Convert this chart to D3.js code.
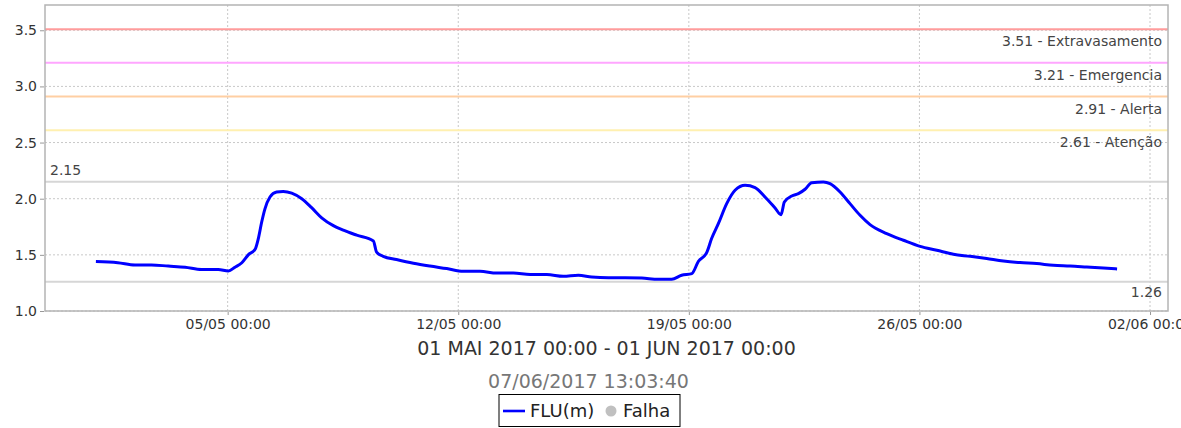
<!DOCTYPE html>
<html>
<head>
<meta charset="utf-8">
<script src="https://cdn.jsdelivr.net/npm/d3@7"></script>
<style>
  body { margin: 0; background: #fff; }
  svg { display: block; font-family: "DejaVu Sans", sans-serif; }
</style>
</head>
<body>
<svg></svg>
<script>
var width = 1181,
    height = 428;
var svg = d3.select("svg")
    .attr("width", width)
    .attr("height", height);

// readings of FLU(m), May 2017
var times = [
    "2017-05-01 00:00", "2017-05-01 16:00", "2017-05-02 04:30", "2017-05-02 16:30",
    "2017-05-03 04:45", "2017-05-03 17:00", "2017-05-04 05:00", "2017-05-04 17:10",
    "2017-05-05 00:30", "2017-05-05 05:20", "2017-05-05 10:20", "2017-05-05 15:00",
    "2017-05-05 20:00", "2017-05-05 22:20", "2017-05-06 00:45", "2017-05-06 03:10",
    "2017-05-06 06:50", "2017-05-06 11:40", "2017-05-06 16:30", "2017-05-06 22:40",
    "2017-05-07 06:00", "2017-05-07 13:10", "2017-05-07 20:30", "2017-05-08 05:00",
    "2017-05-08 12:15", "2017-05-08 22:00", "2017-05-09 10:10", "2017-05-09 12:30",
    "2017-05-09 17:20", "2017-05-10 03:00", "2017-05-10 15:20", "2017-05-11 03:20",
    "2017-05-11 15:35", "2017-05-12 03:40", "2017-05-12 15:50", "2017-05-13 04:00",
    "2017-05-13 16:10", "2017-05-14 04:20", "2017-05-14 16:30", "2017-05-15 04:30",
    "2017-05-15 15:30", "2017-05-16 01:15", "2017-05-16 13:25", "2017-05-17 01:30",
    "2017-05-17 13:40", "2017-05-18 01:45", "2017-05-18 11:30", "2017-05-18 18:45",
    "2017-05-19 02:10", "2017-05-19 07:00", "2017-05-19 13:00", "2017-05-19 16:35",
    "2017-05-19 21:30", "2017-05-20 03:35", "2017-05-20 09:40", "2017-05-20 17:00",
    "2017-05-21 00:15", "2017-05-21 07:30", "2017-05-21 14:50", "2017-05-21 19:10",
    "2017-05-21 21:35", "2017-05-22 03:00", "2017-05-22 07:50", "2017-05-22 12:40",
    "2017-05-22 17:30", "2017-05-23 02:00", "2017-05-23 06:50", "2017-05-23 14:10",
    "2017-05-23 21:25", "2017-05-24 04:45", "2017-05-24 12:00", "2017-05-25 00:10",
    "2017-05-25 12:20", "2017-05-26 00:30", "2017-05-26 12:40", "2017-05-27 00:45",
    "2017-05-27 13:00", "2017-05-28 01:00", "2017-05-28 13:10", "2017-05-29 01:15",
    "2017-05-29 13:25", "2017-05-30 01:35", "2017-05-30 13:45", "2017-05-31 01:55",
    "2017-05-31 14:00", "2017-06-01 00:00"
];
var flu = [
    1.44, 1.43, 1.41, 1.41,
    1.40, 1.39, 1.37, 1.37,
    1.356, 1.39, 1.43, 1.50,
    1.55, 1.645, 1.79, 1.91,
    2.015, 2.06, 2.065, 2.05,
    2.00, 1.92, 1.83, 1.76,
    1.72, 1.675, 1.623, 1.525,
    1.487, 1.458, 1.425, 1.40,
    1.378, 1.354, 1.354, 1.338,
    1.338, 1.324, 1.324, 1.309,
    1.318, 1.303, 1.297, 1.297,
    1.294, 1.282, 1.282, 1.318,
    1.333, 1.443, 1.52, 1.645,
    1.778, 1.956, 2.075, 2.119,
    2.099, 2.015, 1.917, 1.858,
    1.971, 2.024, 2.045, 2.084,
    2.143, 2.149, 2.134, 2.06,
    1.956, 1.852, 1.769, 1.689,
    1.63, 1.576, 1.541, 1.505,
    1.487, 1.467, 1.445, 1.431,
    1.422, 1.407, 1.401, 1.392,
    1.383, 1.375
];

// threshold levels
var levelValues = [3.51, 3.21, 2.91, 2.61];
var levelNames = ["Extravasamento", "Emergencia", "Alerta", "Atenção"];
var levelColors = ["#ff9c9c", "#ffa6ff", "#ffcfa3", "#fff0b0"];

// max / min of period
var maxValue = 2.15,
    minValue = 1.26;

var yTicks = [1.0, 1.5, 2.0, 2.5, 3.0, 3.5];
var xTickLabels = ["2017-05-05 00:00", "2017-05-12 00:00", "2017-05-19 00:00", "2017-05-26 00:00", "2017-06-02 00:00"];
var xDomain = ["2017-04-29 10:55", "2017-06-02 13:06"];
var periodLabel = "01 MAI 2017 00:00 - 01 JUN 2017 00:00";
var stampLabel = "07/06/2017 13:03:40";
var seriesName = "FLU(m)",
    failName = "Falha";

var parse = d3.utcParse("%Y-%m-%d %H:%M");
var data = times.map((t, i) => ({ t: parse(t), v: flu[i] }));

var plot = { left: 45, top: 5, right: 1168, bottom: 311 };

var x = d3.scaleUtc()
    .domain(xDomain.map(parse))
    .range([plot.left, plot.right]);
var y = d3.scaleLinear()
    .domain([1.0, 3.725])
    .range([plot.bottom, plot.top]);

// gridlines
svg.append("g")
    .selectAll("line")
    .data(yTicks)
    .enter().append("line")
    .attr("x1", plot.left).attr("x2", plot.right)
    .attr("y1", d => y(d)).attr("y2", d => y(d))
    .attr("stroke", "#c8c8c8")
    .attr("stroke-dasharray", "2,2");
svg.append("g")
    .selectAll("line")
    .data(xTickLabels.map(parse))
    .enter().append("line")
    .attr("x1", d => x(d)).attr("x2", d => x(d))
    .attr("y1", plot.top).attr("y2", plot.bottom)
    .attr("stroke", "#c8c8c8")
    .attr("stroke-dasharray", "2,2");

// max/min markers
svg.append("g")
    .selectAll("line")
    .data([maxValue, minValue])
    .enter().append("line")
    .attr("x1", plot.left).attr("x2", plot.right)
    .attr("y1", d => y(d)).attr("y2", d => y(d))
    .attr("stroke", "#d6d6d6")
    .attr("stroke-width", 2);
svg.append("text")
    .attr("x", plot.left + 5)
    .attr("y", y(maxValue) - 7)
    .attr("font-size", 14)
    .attr("fill", "#444")
    .text(maxValue.toFixed(2));
svg.append("text")
    .attr("x", plot.right - 6)
    .attr("y", y(minValue) + 15)
    .attr("text-anchor", "end")
    .attr("font-size", 14)
    .attr("fill", "#444")
    .text(minValue.toFixed(2));

// threshold lines
var levels = svg.append("g")
    .selectAll("g")
    .data(levelValues)
    .enter().append("g");
levels.append("line")
    .attr("x1", plot.left).attr("x2", plot.right)
    .attr("y1", d => y(d)).attr("y2", d => y(d))
    .attr("stroke", (d, i) => levelColors[i])
    .attr("stroke-width", 2);
levels.append("text")
    .attr("x", plot.right - 6)
    .attr("y", d => y(d) + 17)
    .attr("text-anchor", "end")
    .attr("font-size", 14)
    .attr("fill", "#444")
    .text((d, i) => d.toFixed(2) + " - " + levelNames[i]);

// series
var line = d3.line()
    .curve(d3.curveMonotoneX)
    .x(d => x(d.t))
    .y(d => y(d.v));
svg.append("path")
    .datum(data)
    .attr("d", line)
    .attr("fill", "none")
    .attr("stroke", "#0000ff")
    .attr("stroke-width", 3)
    .attr("stroke-linejoin", "round");

// plot outline
svg.append("rect")
    .attr("x", plot.left).attr("y", plot.top)
    .attr("width", plot.right - plot.left)
    .attr("height", plot.bottom - plot.top)
    .attr("fill", "none")
    .attr("stroke", "#b4b4b4")
    .attr("stroke-width", 1.5);

// axes
var yAxis = svg.append("g")
    .attr("transform", "translate(" + (plot.left - 1) + ",0)")
    .call(d3.axisLeft(y).tickValues(yTicks).tickFormat(d3.format(".1f")).tickSize(4).tickPadding(3));
var xAxis = svg.append("g")
    .attr("transform", "translate(0," + (plot.bottom + 1) + ")")
    .call(d3.axisBottom(x).tickValues(xTickLabels.map(parse)).tickFormat(d3.utcFormat("%d/%m %H:%M")).tickSize(3).tickPadding(4));
[yAxis, xAxis].forEach(a => {
    a.select(".domain").remove();
    a.selectAll("line").attr("stroke", "#999");
    a.selectAll("text")
        .attr("font-family", "DejaVu Sans, sans-serif")
        .attr("font-size", 14)
        .attr("fill", "#333");
});

// period title & timestamp
svg.append("text")
    .attr("x", (plot.left + plot.right) / 2)
    .attr("y", 355)
    .attr("text-anchor", "middle")
    .attr("font-size", 19)
    .attr("fill", "#333")
    .text(periodLabel);
svg.append("text")
    .attr("x", width / 2 - 2)
    .attr("y", 388)
    .attr("text-anchor", "middle")
    .attr("font-size", 19)
    .attr("fill", "#777")
    .text(stampLabel);

// legend
var legend = svg.append("g");
legend.append("rect")
    .attr("x", 499).attr("y", 394.5)
    .attr("width", 181).attr("height", 32)
    .attr("fill", "#fff")
    .attr("stroke", "#000");
legend.append("line")
    .attr("x1", 503).attr("x2", 525)
    .attr("y1", 411).attr("y2", 411)
    .attr("stroke", "#0000ff")
    .attr("stroke-width", 2.6);
legend.append("text")
    .attr("x", 530).attr("y", 417)
    .attr("font-size", 18)
    .attr("fill", "#222")
    .text(seriesName);
legend.append("circle")
    .attr("cx", 611).attr("cy", 411)
    .attr("r", 5.5)
    .attr("fill", "#c0c0c0");
legend.append("text")
    .attr("x", 623).attr("y", 417)
    .attr("font-size", 18)
    .attr("fill", "#222")
    .text(failName);
</script>
</body>
</html>
